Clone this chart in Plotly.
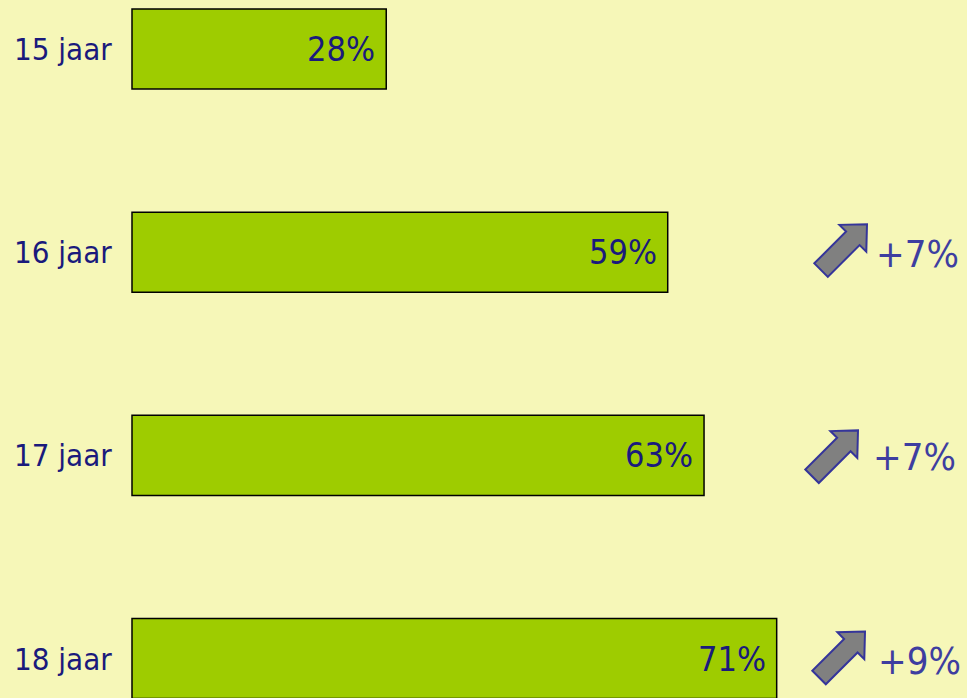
import plotly.graph_objects as go
import math

# ---- data ----
categories = ["15 jaar", "16 jaar", "17 jaar", "18 jaar"]
values = [28, 59, 63, 71]
changes = [None, "+7%", "+7%", "+9%"]

BG = "#F6F7B8"
BAR = "#9ECC00"
NAVY = "#1A1A7C"
BLUE = "#3E3EA0"
FONT = "Liberation Sans Narrow, DejaVu Sans Condensed, sans-serif"

fig = go.Figure()
fig.add_trace(go.Bar(
    x=values, y=categories, orientation="h", width=0.394,
    marker=dict(color=BAR, line=dict(color="black", width=1.5)),
    hoverinfo="skip",
))

annotations = []
shapes = []
for i, c in enumerate(categories):
    annotations.append(dict(x=0, xref="paper", xshift=12, y=c, yref="y",
                            text=c, showarrow=False, xanchor="left",
                            font=dict(family=FONT, size=31, color=NAVY)))
    annotations.append(dict(x=values[i], xref="x", xshift=-9, y=c, yref="y",
                            text=f"{values[i]}%", showarrow=False, xanchor="right",
                            font=dict(family=FONT, size=34, color=NAVY)))

# arrow geometry (pixel offsets relative to tip), 45-degree up-right arrow
h, w, s, L = 20, 19, 9.5, 65
r = 1 / math.sqrt(2)
d = (r, r)      # direction in plotly pixel space (y up)
n = (r, -r)     # perpendicular
def pt(along, perp):
    return (along * d[0] + perp * n[0], along * d[1] + perp * n[1])
poly = [pt(0, 0), pt(-h, w), pt(-h, s), pt(-L, s), pt(-L, -s), pt(-h, -s), pt(-h, -w)]
tips = [None, (867, 28), (858, 25), (865, 27)]
text_x = [None, 874, 871, 876]
for i, ch in enumerate(changes):
    if ch is None:
        continue
    tx, ty = tips[i]
    path = "M " + " L ".join(f"{tx + px:.1f},{ty + py:.1f}" for px, py in poly) + " Z"
    shapes.append(dict(type="path", path=path, xref="paper", xsizemode="pixel", xanchor=0,
                       yref="y", ysizemode="pixel", yanchor=i,
                       fillcolor="#808080", line=dict(color="#35359A", width=2)))
    annotations.append(dict(x=0, xref="paper", xshift=text_x[i], y=categories[i], yref="y",
                            text=ch, showarrow=False, xanchor="left", yshift=-2,
                            font=dict(family=FONT, size=38, color=BLUE)))

fig.update_layout(
    width=967, height=698, margin=dict(l=0, r=0, t=0, b=0, pad=0),
    paper_bgcolor=BG, plot_bgcolor=BG, showlegend=False,
    xaxis=dict(range=[-132 / 9.08, (967 - 132) / 9.08], visible=False, fixedrange=True),
    yaxis=dict(type="category", categoryorder="array", categoryarray=categories,
               range=[3.194, -0.241], visible=False, fixedrange=True),
    annotations=annotations, shapes=shapes,
)
fig.write_html("out.html", config={"displayModeBar": False},
               post_script="document.body.style.margin='0';document.body.style.overflow='hidden';")
